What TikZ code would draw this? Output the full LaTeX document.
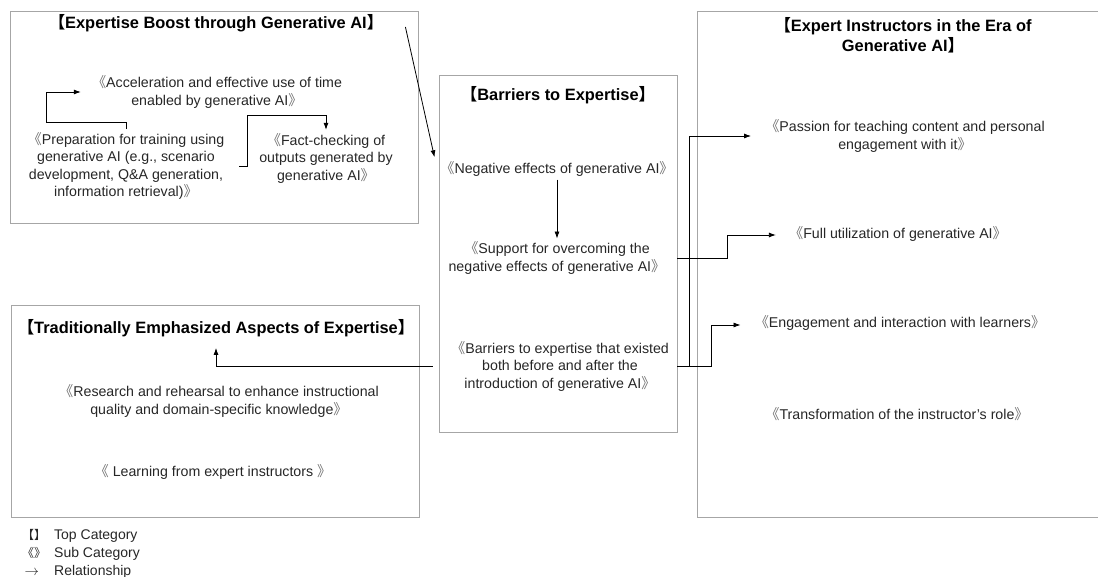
\documentclass[tikz,border=0pt]{standalone}
\usepackage{fontspec}
\setmainfont{Liberation Sans}
\newfontfamily\cjk{Noto Sans CJK SC}
\usetikzlibrary{arrows.meta}
\newcommand{\topL}{{\cjk 【}}
\newcommand{\topR}{{\cjk 】}}
\newcommand{\subL}{{\cjk\color{black!55}《}}
\newcommand{\subR}{{\cjk\color{black!55}》}}

\begin{document}
\begin{tikzpicture}[x=1pt,y=-1pt,
    catbox/.style={draw=black!35,line width=0.9pt,inner sep=0pt},
    cat/.style={font=\bfseries\fontsize{16.4}{20}\selectfont,align=center,inner sep=2pt},
    sub/.style={font=\fontsize{14.2}{17.5}\selectfont,text=black!85,align=center,inner sep=3pt},
    rel/.style={-{Latex[length=7pt,width=5pt]},line width=0.8pt}]
    \useasboundingbox (0,0) rectangle (1098,577);
    % category boxes
    \node[catbox,minimum width=408pt,minimum height=212pt] (A) at (214,117) {};
    \node[catbox,minimum width=238pt,minimum height=357pt] (B) at (558,253.5) {};
    \node[catbox,minimum width=423pt,minimum height=506pt] (C) at (908.5,264) {};
    \node[catbox,minimum width=408pt,minimum height=212pt] (D) at (215,411) {};
    % boost through generative AI
    \node[cat] (tA) at (216,23) {\topL Expertise Boost through Generative AI\topR};
    \node[sub] (accel) at (217,92) {\subL Acceleration and effective use of time\\enabled by generative AI\subR};
    \node[sub] (prep) at (126,166) {\subL Preparation for training using\\generative AI (e.g., scenario\\development, Q\&A generation,\\information retrieval)\subR};
    \node[sub] (fact) at (326,158) {\subL Fact-checking of\\outputs generated by\\generative AI\subR};
    % barriers
    \node[cat] (tB) at (558,95) {\topL Barriers to Expertise\topR};
    \node[sub] (neg) at (557,169) {\subL Negative effects of generative AI\subR};
    \node[sub] (support) at (557,258) {\subL Support for overcoming the\\negative effects of generative AI\subR};
    \node[sub] (exist) at (560,366) {\subL Barriers to expertise that existed\\both before and after the\\introduction of generative AI\subR};
    % expert instructors
    \node[cat] (tC) at (903,35) {\topL Expert Instructors in the Era of\\Generative AI\topR};
    \node[sub] (passion) at (905,136) {\subL Passion for teaching content and personal\\engagement with it\subR};
    \node[sub] (full) at (898,234) {\subL Full utilization of generative AI\subR};
    \node[sub] (engage) at (900,323) {\subL Engagement and interaction with learners\subR};
    \node[sub] (transf) at (897,414) {\subL Transformation of the instructor’s role\subR};
    % traditional aspects
    \node[cat] (tD) at (216,328) {\topL Traditionally Emphasized Aspects of Expertise\topR};
    \node[sub] (research) at (219,401) {\subL Research and rehearsal to enhance instructional\\quality and domain-specific knowledge\subR};
    \node[sub] (learn) at (213,472) {\subL\ Learning from expert instructors \subR};
    % legend
    \node[anchor=north west,inner sep=0pt,font=\fontsize{14}{18}\selectfont,text=black!85] (legend) at (22,527) {%
        \begin{tabular}{@{}l@{\hspace{8pt}}l@{}}
        {\cjk\fontsize{12}{12}\selectfont 【】} & Top Category\\
        {\cjk\fontsize{12}{12}\selectfont 《》} & Sub Category\\
        \,$\rightarrow$ & Relationship
        \end{tabular}};
    % bends
    \coordinate (pa) at (46,122);
    \coordinate (pf) at (247,115);
    \coordinate (sf) at (727,235);
    \coordinate (ep) at (689,136);
    \coordinate (ee) at (711,325);
    % relationships
    \draw[rel,shorten >=8pt] (prep.north) |- (pa) |- (accel.west);
    \draw[rel,shorten <=12pt] (prep.east) -| (pf) -| (fact.north);
    \draw[rel,shorten >=12pt] ([shift={(20,4)}]tA.east) -- (neg.west);
    \path [rel] (neg) edge (support);
    \draw[rel,shorten >=10pt] (support.east -| B.east) -| (sf) -- (sf -| full.west);
    \draw[rel,shorten >=11pt] (exist.east -| B.east) -| (ep) -- (ep -| passion.west);
    \draw[rel,shorten >=11pt] (exist.east -| B.east) -| (ee) -- (ee -| engage.west);
    \draw[rel,shorten <=6pt,shorten >=9pt] (exist.west -| B.west) -| (tD.south);
\end{tikzpicture}
\end{document}
